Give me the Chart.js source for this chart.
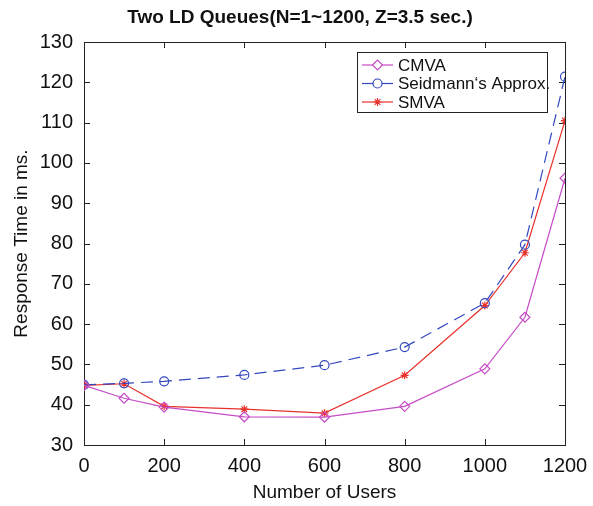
<!DOCTYPE html>
<html>
<head>
<meta charset="utf-8">
<script src="https://cdn.jsdelivr.net/npm/chart.js@4"></script>
<style>
  html, body { margin: 0; padding: 0; background: #fff; }
  #wrap { width: 593px; height: 506px; }
</style>
</head>
<body>
<div id="wrap"><canvas id="chart" width="593" height="506"></canvas></div>
<script>
// values
const users = [0, 100, 200, 400, 600, 800, 1000, 1100, 1200];
const cmva = [44.8, 41.6, 39.4, 37.0, 36.9, 39.6, 48.9, 61.7, 96.2];
const seidmann = [44.9, 45.3, 45.8, 47.4, 49.8, 54.3, 65.2, 79.7, 121.4];
const smva = [44.8, 45.2, 39.6, 38.9, 37.9, 47.3, 64.6, 77.7, 110.5];
const xTicks = [0, 200, 400, 600, 800, 1000, 1200];
const yTicks = [30, 40, 50, 60, 70, 80, 90, 100, 110, 120, 130];

const FONT = "'Liberation Sans', Arial, Helvetica, sans-serif";
const colCmva = "#c64cc6";
const colSeid = "#3448be";
const colSmva = "#e8322c";

const toPts = ys => users.map((u, i) => ({ x: u, y: ys[i] }));

const series = [
  { label: "CMVA", data: cmva, color: colCmva, style: "rectRot", radius: 5, dash: [] },
  { label: "Seidmann\u2018s Approx.", data: seidmann, color: colSeid, style: "circle", radius: 4.5, dash: [12, 7] },
  { label: "SMVA", data: smva, color: colSmva, style: "star", radius: 4, dash: [] }
];

// box, inward ticks, title and legend drawn like the matlab figure
const matlabFrame = {
  id: "matlabFrame",
  beforeDatasetsDraw(chart) {
    const { ctx, chartArea: a, scales } = chart;
    ctx.save();
    ctx.strokeStyle = "#222";
    ctx.lineWidth = 1;
    ctx.strokeRect(Math.round(a.left) + 0.5, Math.round(a.top) + 0.5, Math.round(a.width), Math.round(a.height));
    ctx.beginPath();
    xTicks.forEach(v => {
      const x = Math.round(scales.x.getPixelForValue(v)) + 0.5;
      ctx.moveTo(x, a.bottom); ctx.lineTo(x, a.bottom - 6);
      ctx.moveTo(x, a.top); ctx.lineTo(x, a.top + 6);
    });
    yTicks.forEach(v => {
      const y = Math.round(scales.y.getPixelForValue(v)) + 0.5;
      ctx.moveTo(a.left, y); ctx.lineTo(a.left + 6, y);
      ctx.moveTo(a.right, y); ctx.lineTo(a.right - 6, y);
    });
    ctx.stroke();
    ctx.restore();
  },
  afterDraw(chart) {
    const { ctx } = chart;
    ctx.save();
    ctx.fillStyle = "#111";
    ctx.font = "bold 19px " + FONT;
    ctx.textAlign = "center";
    ctx.textBaseline = "middle";
    ctx.fillText("Two LD Queues(N=1~1200, Z=3.5 sec.)", 300, 18);

    // legend
    const bx = 357, by = 52, bw = 190, bh = 60;
    ctx.fillStyle = "#fff";
    ctx.fillRect(bx, by, bw, bh);
    ctx.strokeStyle = "#222";
    ctx.lineWidth = 1;
    ctx.strokeRect(bx + 0.5, by + 0.5, bw, bh);
    ctx.font = "17px " + FONT;
    ctx.textAlign = "left";
    series.forEach((s, i) => {
      const y = 65 + i * 18.5;
      ctx.strokeStyle = s.color;
      ctx.lineWidth = 1.2;
      ctx.setLineDash([]);
      ctx.beginPath();
      ctx.moveTo(362, y); ctx.lineTo(393, y);
      ctx.stroke();
      ctx.fillStyle = "#fff";
      Chart.helpers.drawPoint(ctx, { pointStyle: s.style, radius: s.radius, borderWidth: 1.2 }, 377.5, y);
      ctx.fillStyle = "#111";
      ctx.fillText(s.label, 398, y + 1);
    });
    ctx.restore();
  }
};

new Chart(document.getElementById("chart"), {
  type: "line",
  data: {
    datasets: series.map(s => ({
      label: s.label,
      data: toPts(s.data),
      borderColor: s.color,
      backgroundColor: "rgba(0,0,0,0)",
      borderWidth: 1.2,
      borderDash: s.dash,
      pointStyle: s.style,
      pointRadius: s.radius,
      pointBorderColor: s.color,
      pointBackgroundColor: "rgba(0,0,0,0)",
      pointBorderWidth: 1.2,
      tension: 0
    }))
  },
  options: {
    responsive: false,
    animation: false,
    layout: { padding: { top: 42, right: 28, left: 0, bottom: 0 } },
    plugins: {
      legend: { display: false },
      title: { display: false },
      tooltip: { enabled: false }
    },
    scales: {
      x: {
        type: "linear",
        min: 0, max: 1200,
        afterFit: s => { s.height = 61; s.paddingLeft = 0; s.paddingRight = 0; },
        afterBuildTicks: s => { s.ticks = xTicks.map(v => ({ value: v })); },
        grid: { display: false, drawTicks: false },
        border: { display: false },
        ticks: {
          color: "#111", padding: 9, font: { family: FONT, size: 20 },
          callback: v => String(v)
        },
        title: {
          display: true, text: "Number of Users", color: "#111",
          font: { family: FONT, size: 19 }, padding: { top: 0, bottom: 1.6 }
        }
      },
      y: {
        min: 30, max: 130,
        afterFit: s => { s.width = 84; s.paddingTop = 0; s.paddingBottom = 0; },
        afterBuildTicks: s => { s.ticks = yTicks.map(v => ({ value: v })); },
        grid: { display: false, drawTicks: false },
        border: { display: false },
        ticks: {
          color: "#111", padding: 11, font: { family: FONT, size: 20 },
          callback: v => String(v)
        },
        title: {
          display: true, text: "Response Time in ms.", color: "#111",
          font: { family: FONT, size: 19 }, padding: { top: 10.6, bottom: 0 }
        }
      }
    }
  },
  plugins: [matlabFrame]
});
</script>
</body>
</html>
